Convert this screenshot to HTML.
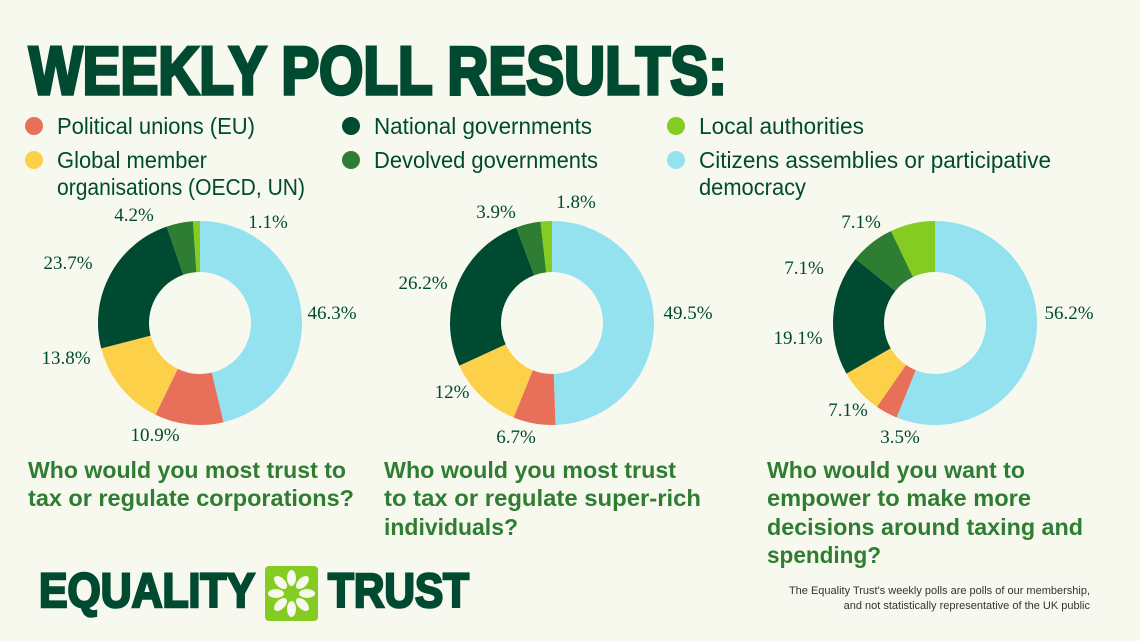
<!DOCTYPE html>
<html><head><meta charset="utf-8"><style>
html,body{margin:0;padding:0;background:#f8f9ee;}
svg{display:block}
.t{font-family:"Liberation Sans",sans-serif;font-weight:bold;fill:#004a32;stroke:#004a32;stroke-width:2.5px}
.l{font-family:"Liberation Sans",sans-serif;fill:#004a32;font-size:23px}
.p{font-family:"Liberation Serif",serif;fill:#004a32;font-size:19px;text-anchor:middle}
.q{font-family:"Liberation Sans",sans-serif;font-weight:bold;fill:#2e7d32;font-size:23px}
.f{font-family:"Liberation Sans",sans-serif;fill:#333;font-size:11px;text-anchor:end}
</style></head><body>
<svg id="s" width="1140" height="641" xmlns="http://www.w3.org/2000/svg">
<rect width="1140" height="641" fill="#f8f9ee"/>
<text class="t" x="29" y="94" font-size="68" style="stroke-width:3.5px" textLength="698" lengthAdjust="spacingAndGlyphs">WEEKLY POLL RESULTS:</text>
<g>
<circle cx="34" cy="126" r="9" fill="#e8705a"/><text class="l" x="57" y="134" textLength="198" lengthAdjust="spacingAndGlyphs">Political unions (EU)</text>
<circle cx="34" cy="160" r="9" fill="#fdd04a"/><text class="l" x="57" y="168" textLength="150" lengthAdjust="spacingAndGlyphs">Global member</text>
<text class="l" x="57" y="195" textLength="248" lengthAdjust="spacingAndGlyphs">organisations (OECD, UN)</text>
<circle cx="351" cy="126" r="9" fill="#004a32"/><text class="l" x="374" y="134" textLength="218" lengthAdjust="spacingAndGlyphs">National governments</text>
<circle cx="351" cy="160" r="9" fill="#2e7d32"/><text class="l" x="374" y="168" textLength="224" lengthAdjust="spacingAndGlyphs">Devolved governments</text>
<circle cx="676" cy="126" r="9" fill="#84cc22"/><text class="l" x="699" y="134" textLength="165" lengthAdjust="spacingAndGlyphs">Local authorities</text>
<circle cx="676" cy="160" r="9" fill="#94e2f0"/><text class="l" x="699" y="168" textLength="352" lengthAdjust="spacingAndGlyphs">Citizens assemblies or participative</text>
<text class="l" x="699" y="195" textLength="107" lengthAdjust="spacingAndGlyphs">democracy</text>
</g>
<g id="d"></g>
<text class="p" x="134" y="221">4.2%</text><text class="p" x="268" y="228">1.1%</text>
<text class="p" x="68" y="269">23.7%</text><text class="p" x="332" y="319">46.3%</text>
<text class="p" x="66" y="364">13.8%</text><text class="p" x="155" y="441">10.9%</text>
<text class="p" x="496" y="218">3.9%</text><text class="p" x="576" y="208">1.8%</text>
<text class="p" x="423" y="289">26.2%</text><text class="p" x="688" y="319">49.5%</text>
<text class="p" x="452" y="398">12%</text><text class="p" x="516" y="443">6.7%</text>
<text class="p" x="861" y="228">7.1%</text><text class="p" x="804" y="274">7.1%</text>
<text class="p" x="798" y="344">19.1%</text><text class="p" x="1069" y="319">56.2%</text>
<text class="p" x="848" y="416">7.1%</text><text class="p" x="900" y="443">3.5%</text>
<text class="q" x="28" y="478" textLength="318" lengthAdjust="spacingAndGlyphs">Who would you most trust to</text>
<text class="q" x="28" y="506" textLength="326" lengthAdjust="spacingAndGlyphs">tax or regulate corporations?</text>
<text class="q" x="384" y="478" textLength="292" lengthAdjust="spacingAndGlyphs">Who would you most trust</text>
<text class="q" x="384" y="506" textLength="317" lengthAdjust="spacingAndGlyphs">to tax or regulate super-rich</text>
<text class="q" x="384" y="535" textLength="134" lengthAdjust="spacingAndGlyphs">individuals?</text>
<text class="q" x="767" y="478" textLength="258" lengthAdjust="spacingAndGlyphs">Who would you want to</text>
<text class="q" x="767" y="506" textLength="264" lengthAdjust="spacingAndGlyphs">empower to make more</text>
<text class="q" x="767" y="535" textLength="316" lengthAdjust="spacingAndGlyphs">decisions around taxing and</text>
<text class="q" x="767" y="563" textLength="114" lengthAdjust="spacingAndGlyphs">spending?</text>
<text class="f" x="1090" y="594">The Equality Trust's weekly polls are polls of our membership,</text>
<text class="f" x="1090" y="609">and not statistically representative of the UK public</text>
<text class="t" x="39" y="607" font-size="48" textLength="216" lengthAdjust="spacingAndGlyphs">EQUALITY</text>
<rect x="265" y="566" width="53" height="55" rx="4" fill="#84cc22"/>
<g id="fl" fill="#f8f9ee"></g>
<text class="t" x="328" y="607" font-size="48" textLength="141" lengthAdjust="spacingAndGlyphs">TRUST</text>
</svg>
<script>
var C=["#94e2f0","#e8705a","#fdd04a","#004a32","#2e7d32","#84cc22"];
var D=[[200,[46.3,10.9,13.8,23.7,4.2,1.1]],[552,[49.5,6.7,12,26.2,3.9,1.8]],[935,[56.2,3.5,7.1,19.1,7.1,7.1]]];
var g=document.getElementById("d"),h="";
D.forEach(function(d){var cx=d[0],cy=323,R=102,r=51,tot=d[1].reduce(function(a,b){return a+b}),a=0;
d[1].forEach(function(v,i){var a0=a/tot*2*Math.PI,a1=(a+v)/tot*2*Math.PI;a+=v;
function P(rr,t){return (cx+rr*Math.sin(t)).toFixed(2)+" "+(cy-rr*Math.cos(t)).toFixed(2)}
var L=(a1-a0)>Math.PI?1:0;
h+='<path fill="'+C[i]+'" d="M'+P(R,a0)+' A'+R+' '+R+' 0 '+L+' 1 '+P(R,a1)+' L'+P(r,a1)+' A'+r+' '+r+' 0 '+L+' 0 '+P(r,a0)+'Z"/>';});});
g.innerHTML=h;
var f="";for(var k=0;k<8;k++){var t=k*45;f+='<ellipse cx="291.5" cy="578" rx="4.5" ry="8" transform="rotate('+t+' 291.5 593.5)"/>';}
document.getElementById("fl").innerHTML=f;
</script>
</body></html>
